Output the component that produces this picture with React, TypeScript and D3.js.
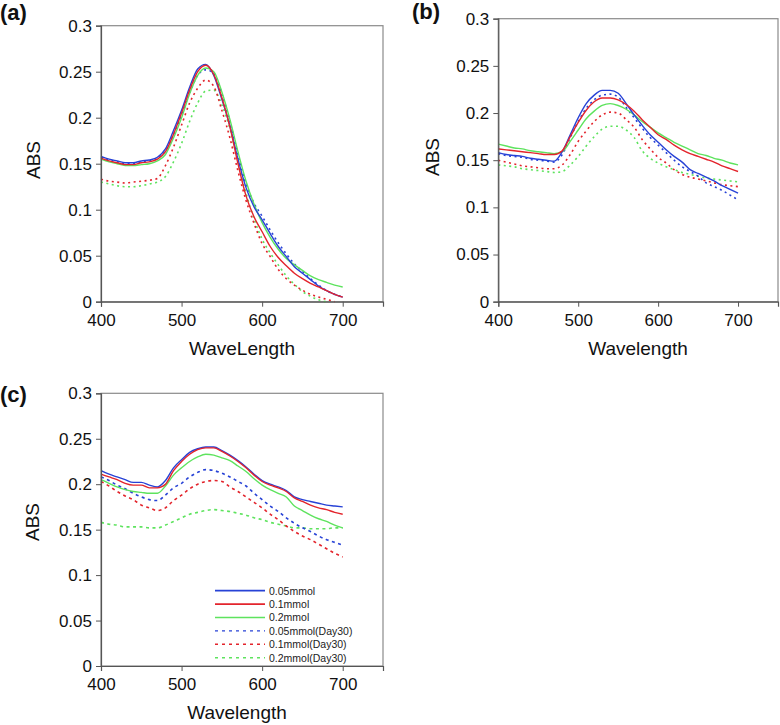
import React, { useEffect, useRef } from 'react';
import * as d3 from 'd3';

// wavelengths shared by every curve (nm)
const waves = [400, 410, 420, 430, 440, 450, 460, 470, 480, 490, 500, 510, 520, 530, 540, 550, 560, 570, 580, 590, 600, 610, 620, 630, 640, 650, 660, 670, 680, 690, 700];

const seriesNames = ['0.05mmol', '0.1mmol', '0.2mmol', '0.05mmol(Day30)', '0.1mmol(Day30)', '0.2mmol(Day30)'];
const yTicks = [0, 0.05, 0.1, 0.15, 0.2, 0.25, 0.3];
const xTicks = [400, 500, 600, 700];

// panel (a)
const aBlue = [.158, .155, .153, .151, .151, .153, .154, .157, .166, .186, .208, .233, .253, .258, .246, .220, .191, .155, .124, .103, .089, .074, .060, .049, .038, .031, .024, .017, .012, .008, .005];
const aRed = [.156, .153, .151, .149, .149, .151, .152, .155, .163, .182, .205, .230, .250, .257, .247, .222, .190, .150, .115, .092, .076, .060, .048, .039, .031, .025, .020, .016, .012, .008, .005];
const aGreen = [.155, .152, .150, .148, .148, .149, .150, .153, .160, .178, .200, .226, .246, .254, .250, .228, .198, .163, .131, .106, .086, .070, .057, .047, .040, .034, .028, .024, .021, .018, .016];
const aBlueD = [.157, .154, .152, .150, .150, .152, .153, .156, .164, .182, .203, .227, .246, .252, .248, .226, .196, .160, .128, .107, .093, .078, .064, .052, .041, .033, .025, .018, .012, .008, .005];
const aRedD = [.133, .131, .130, .129, .130, .131, .132, .134, .148, .168, .192, .216, .232, .241, .234, .208, .178, .142, .110, .085, .063, .049, .035, .025, .018, .0125, .008, .005, .0025, 0, null];
const aGreenD = [.130, .128, .126, .125, .125, .126, .128, .130, .136, .152, .172, .196, .216, .229, .230, .214, .188, .152, .118, .090, .068, .053, .040, .028, .019, .011, .006, .002, 0, null, null];

// panel (b)
const bBlue = [.158, .156, .155, .154, .152, .151, .150, .149, .159, .177, .195, .210, .219, .224, .224, .221, .210, .198, .187, .177, .169, .161, .154, .148, .140, .136, .132, .128, .123, .119, .115];
const bRed = [.162, .161, .160, .159, .158, .157, .156, .156, .160, .175, .190, .203, .212, .216, .216, .214, .209, .202, .193, .185, .177, .172, .166, .161, .157, .154, .151, .148, .144, .141, .138];
const bGreen = [.167, .165, .163, .162, .160, .159, .158, .157, .159, .170, .182, .194, .202, .208, .210, .208, .204, .198, .191, .185, .179, .174, .169, .165, .161, .157, .155, .152, .150, .147, .145];
const bBlueD = [.157, .155, .154, .153, .151, .150, .149, .148, .156, .174, .191, .205, .214, .219, .220, .217, .206, .195, .184, .174, .166, .158, .150, .143, .138, .133, .126, .122, .118, .113, .108];
const bRedD = [.150, .148, .146, .144, .143, .142, .141, .141, .145, .156, .170, .181, .191, .198, .201, .200, .193, .185, .172, .162, .153, .147, .140, .135, .132, .130, .128, .126, .124, .123, .122];
const bGreenD = [.145, .144, .143, .141, .140, .139, .138, .137, .138, .145, .154, .165, .175, .183, .186, .186, .182, .174, .160, .152, .147, .143, .140, .137, .135, .133, .131, .130, .129, .128, .127];

// panel (c)
const cBlue = [.215, .211, .208, .205, .202, .202, .199, .197, .204, .218, .227, .235, .239, .241, .241, .237, .232, .226, .219, .211, .204, .200, .197, .193, .186, .183, .181, .179, .177, .176, .175];
const cRed = [.211, .208, .205, .201, .199, .199, .196, .196, .200, .215, .225, .233, .238, .240, .240, .236, .231, .225, .218, .210, .203, .199, .196, .192, .185, .181, .177, .174, .172, .169, .167];
const cGreen = [.205, .201, .197, .194, .192, .191, .190, .190, .198, .210, .218, .225, .230, .233, .232, .229, .226, .220, .214, .206, .199, .194, .190, .186, .176, .171, .166, .162, .159, .155, .152];
const cBlueD = [.208, .204, .199, .195, .190, .186, .183, .182, .188, .196, .201, .208, .213, .216, .215, .212, .208, .203, .198, .190, .183, .176, .170, .163, .157, .152, .148, .143, .139, .136, .133];
const cRedD = [.203, .198, .192, .187, .183, .177, .174, .171, .174, .182, .188, .195, .200, .203, .204, .203, .197, .192, .186, .180, .174, .167, .161, .154, .148, .143, .139, .134, .129, .124, .120];
const cGreenD = [.158, .156, .155, .153, .153, .153, .152, .152, .155, .159, .163, .167, .169, .171, .172, .171, .170, .168, .166, .163, .161, .158, .156, .154, .152, .152, .151, .151, .151, .152, .152];

const BLUE = '#2742d6';
const RED = '#e3242c';
const GREEN = '#5ee35e';
const colors = [BLUE, RED, GREEN, BLUE, RED, GREEN];
const FONT = '"Liberation Sans", Arial, sans-serif';

const panels = [
  {
    key: 'a', label: '(a)', labelX: 0, labelY: 20,
    left: 101, top: 25.7, right: 383, bottom: 301.7,
    xTitle: 'WaveLength', xTitleX: 242, xTitleY: 355, yTitleX: 40, yTitleY: 160,
    series: [aBlue, aRed, aGreen, aBlueD, aRedD, aGreenD], dash: '2,3.5', legend: false,
  },
  {
    key: 'b', label: '(b)', labelX: 412, labelY: 19,
    left: 498.3, top: 18.7, right: 778, bottom: 301.7,
    xTitle: 'Wavelength', xTitleX: 638, xTitleY: 355, yTitleX: 439, yTitleY: 157,
    series: [bBlue, bRed, bGreen, bBlueD, bRedD, bGreenD], dash: '2,3.5', legend: false,
  },
  {
    key: 'c', label: '(c)', labelX: 0, labelY: 402,
    left: 101, top: 393.3, right: 383, bottom: 666,
    xTitle: 'Wavelength', xTitleX: 237, xTitleY: 719, yTitleX: 39, yTitleY: 522,
    series: [cBlue, cRed, cGreen, cBlueD, cRedD, cGreenD], dash: '3,3.5', legend: true,
  },
];

// draw order: dotted first, solids on top
const drawOrder = [5, 4, 3, 2, 0, 1];

function Panel({ p }) {
  const xAxisRef = useRef(null);
  const yAxisRef = useRef(null);

  const x = d3.scaleLinear().domain([400, 750]).range([p.left, p.right]);
  const y = d3.scaleLinear().domain([0, 0.3]).range([p.bottom, p.top]);

  useEffect(() => {
    const xa = d3.select(xAxisRef.current)
      .call(d3.axisBottom(x).tickValues(xTicks).tickSize(5).tickPadding(7).tickFormat(d3.format('d')));
    const ya = d3.select(yAxisRef.current)
      .call(d3.axisLeft(y).tickValues(yTicks).tickSize(5).tickPadding(4).tickFormat(d => String(d)));
    [xa, ya].forEach(a => {
      a.select('.domain').attr('stroke', '#555').attr('stroke-width', 1.2);
      a.selectAll('.tick line').attr('stroke', '#555');
      a.selectAll('.tick text').attr('fill', '#111').style('font-size', '17px').style('font-family', FONT);
    });
  });

  const line = d3.line()
    .defined(d => d[1] != null)
    .x(d => x(d[0]))
    .y(d => y(d[1]))
    .curve(d3.curveMonotoneX);

  return (
    <g>
      <text x={p.labelX} y={p.labelY} fontFamily={FONT} fontWeight="bold" fontSize={22} fill="#111">{p.label}</text>
      <rect x={p.left} y={p.top} width={p.right - p.left} height={p.bottom - p.top} fill="none" stroke="#8a8a8a" strokeWidth={1.2} />
      {drawOrder.map(i => (
        <path key={i}
          d={line(waves.map((w, j) => [w, p.series[i][j]]))}
          fill="none"
          stroke={colors[i]}
          strokeWidth={i < 3 ? 1.4 : 1.6}
          strokeDasharray={i < 3 ? null : p.dash} />
      ))}
      <g ref={xAxisRef} transform={`translate(0,${p.bottom})`} />
      <g ref={yAxisRef} transform={`translate(${p.left},0)`} />
      <text x={p.xTitleX} y={p.xTitleY} textAnchor="middle" fontFamily={FONT} fontSize={19} fill="#111">{p.xTitle}</text>
      <text transform={`translate(${p.yTitleX},${p.yTitleY}) rotate(-90)`} textAnchor="middle" fontFamily={FONT} fontSize={19} fill="#111">ABS</text>
      {p.legend && seriesNames.map((name, i) => (
        <g key={name} transform={`translate(0,${590.7 + i * 13.4})`}>
          <line x1={215} x2={265} y1={0} y2={0} stroke={colors[i]}
            strokeWidth={i < 3 ? 1.7 : 1.4} strokeDasharray={i < 3 ? null : '3,4'} />
          <text x={269} y={3.8} fontFamily={FONT} fontSize={10.5} fill="#222">{name}</text>
        </g>
      ))}
    </g>
  );
}

export default function App() {
  return (
    <svg width={780} height={725} style={{ position: 'absolute', left: 0, top: 0, background: '#fff' }}>
      {panels.map(p => <Panel key={p.key} p={p} />)}
    </svg>
  );
}
